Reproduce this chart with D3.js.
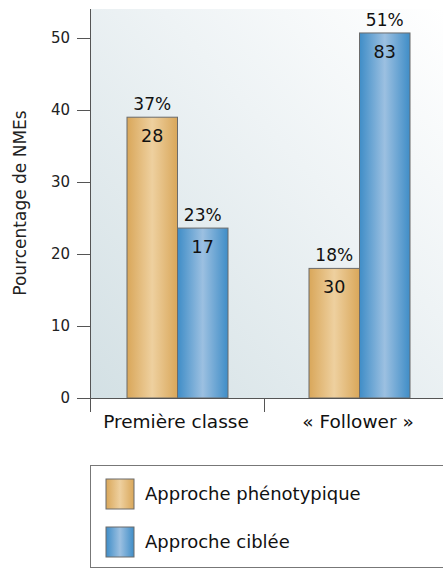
<!DOCTYPE html>
<html>
<head>
<meta charset="utf-8">
<script src="https://cdn.jsdelivr.net/npm/d3@7"></script>
<style>
  body { margin: 0; background: #fff; }
  svg { display: block; font-family: "DejaVu Sans", sans-serif; }
</style>
</head>
<body>
<svg id="chart" width="443" height="571"></svg>
<script>
// data
var categories = ["Première classe", "« Follower »"];
var seriesNames = ["Approche phénotypique", "Approche ciblée"];
var seriesKeys = ["pheno", "cible"];
var phenoValues = [39, 18];
var cibleValues = [23.6, 50.7];
var phenoPct = ["37%", "18%"];
var ciblePct = ["23%", "51%"];
var phenoCounts = [28, 30];
var cibleCounts = [17, 83];
var yTicks = [0, 10, 20, 30, 40, 50];

var data = categories.map(function(c, i) {
  return {
    name: c,
    bars: [
      {key: "pheno", value: phenoValues[i], pct: phenoPct[i], n: phenoCounts[i]},
      {key: "cible", value: cibleValues[i], pct: ciblePct[i], n: cibleCounts[i]}
    ]
  };
});

var svg = d3.select("#chart"),
    margin = {top: 9, right: 0, bottom: 173, left: 90},
    width = +svg.attr("width") - margin.left - margin.right,
    height = +svg.attr("height") - margin.top - margin.bottom;

var defs = svg.append("defs");

var bg = defs.append("linearGradient").attr("id", "bg")
    .attr("x1", "0").attr("y1", "1").attr("x2", "1").attr("y2", "0");
bg.append("stop").attr("offset", "0").attr("stop-color", "#d3e0e4");
bg.append("stop").attr("offset", "0.6").attr("stop-color", "#eef3f5");
bg.append("stop").attr("offset", "1").attr("stop-color", "#ffffff");

function barGrad(id, edge, mid) {
  var g = defs.append("linearGradient").attr("id", id)
      .attr("x1", "0").attr("y1", "0").attr("x2", "1").attr("y2", "0");
  g.append("stop").attr("offset", "0").attr("stop-color", edge);
  g.append("stop").attr("offset", "0.5").attr("stop-color", mid);
  g.append("stop").attr("offset", "1").attr("stop-color", edge);
}
barGrad("g-pheno", "#d9a75a", "#eed09f");
barGrad("g-cible", "#3f8dc7", "#9cc0e1");

var fill = d3.scaleOrdinal().domain(seriesKeys).range(["url(#g-pheno)", "url(#g-cible)"]);

var g = svg.append("g").attr("transform", "translate(" + margin.left + "," + margin.top + ")");

var x0 = d3.scaleBand().domain(categories).range([0, 348]).paddingInner(0);
var x1 = d3.scaleBand().domain(seriesKeys).range([37, 138]);
var y = d3.scaleLinear().domain([0, 54]).range([height, height - 54 * 7.2]);

g.append("rect")
    .attr("x", 0).attr("y", 0)
    .attr("width", width).attr("height", height)
    .attr("fill", "url(#bg)");

var groups = g.selectAll("g.cat")
  .data(data)
  .enter().append("g")
    .attr("class", "cat")
    .attr("transform", function(d) { return "translate(" + (x0(d.name) + (d.name === categories[1] ? 8 : 0)) + ",0)"; });

groups.selectAll("rect")
  .data(function(d) { return d.bars; })
  .enter().append("rect")
    .attr("x", function(d) { return x1(d.key); })
    .attr("y", function(d) { return y(d.value); })
    .attr("width", x1.bandwidth())
    .attr("height", function(d) { return y(0) - y(d.value); })
    .attr("fill", function(d) { return fill(d.key); })
    .attr("stroke", "#6b6b6b")
    .attr("stroke-width", 1);

groups.selectAll("text.pct")
  .data(function(d) { return d.bars; })
  .enter().append("text")
    .attr("class", "pct")
    .attr("x", function(d) { return x1(d.key) + x1.bandwidth() / 2; })
    .attr("y", function(d) { return y(d.value) - 7; })
    .attr("text-anchor", "middle")
    .attr("font-size", 17)
    .attr("fill", "#111")
    .text(function(d) { return d.pct; });

groups.selectAll("text.n")
  .data(function(d) { return d.bars; })
  .enter().append("text")
    .attr("class", "n")
    .attr("x", function(d) { return x1(d.key) + x1.bandwidth() / 2; })
    .attr("y", function(d) { return y(d.value) + 25; })
    .attr("text-anchor", "middle")
    .attr("font-size", 17.5)
    .attr("fill", "#111")
    .text(function(d) { return d.n; });

// y axis
var yAxis = g.append("g")
    .call(d3.axisLeft(y).tickValues(yTicks).tickSize(13).tickPadding(7));
yAxis.select(".domain").remove();
yAxis.selectAll(".tick line").attr("stroke", "#555");
yAxis.selectAll(".tick text").attr("font-size", 15).attr("fill", "#222").attr("font-family", "DejaVu Sans");

g.append("line")
    .attr("x1", 0.5).attr("x2", 0.5)
    .attr("y1", 0).attr("y2", height + 14)
    .attr("stroke", "#555");

// x axis
g.append("line")
    .attr("x1", -13).attr("x2", width)
    .attr("y1", height + 0.5).attr("y2", height + 0.5)
    .attr("stroke", "#555");
g.append("line")
    .attr("x1", 174.5).attr("x2", 174.5)
    .attr("y1", height).attr("y2", height + 14)
    .attr("stroke", "#555");

g.selectAll("text.cat")
  .data(categories)
  .enter().append("text")
    .attr("class", "cat")
    .attr("x", function(d, i) { return i === 0 ? 86 : 268; })
    .attr("y", height + 30)
    .attr("text-anchor", "middle")
    .attr("font-size", 18.5)
    .attr("fill", "#111")
    .text(function(d) { return d; });

svg.append("text")
    .attr("transform", "translate(26," + (margin.top + 194) + ") rotate(-90)")
    .attr("text-anchor", "middle")
    .attr("font-size", 17)
    .attr("fill", "#222")
    .text("Pourcentage de NMEs");

// legend
svg.append("rect")
    .attr("x", 90.5).attr("y", 465.5)
    .attr("width", 360).attr("height", 102)
    .attr("fill", "#fff")
    .attr("stroke", "#777");

var legend = svg.selectAll("g.legend")
  .data(seriesKeys)
  .enter().append("g")
    .attr("class", "legend")
    .attr("transform", function(d, i) { return "translate(106," + (479 + i * 48) + ")"; });

legend.append("rect")
    .attr("width", 28).attr("height", 30)
    .attr("fill", fill)
    .attr("stroke", "#6b6b6b");

legend.append("text")
    .attr("x", 39)
    .attr("y", 15)
    .attr("dy", "0.35em")
    .attr("font-size", 18)
    .attr("fill", "#111")
    .text(function(d, i) { return seriesNames[i]; });
</script>
</body>
</html>
